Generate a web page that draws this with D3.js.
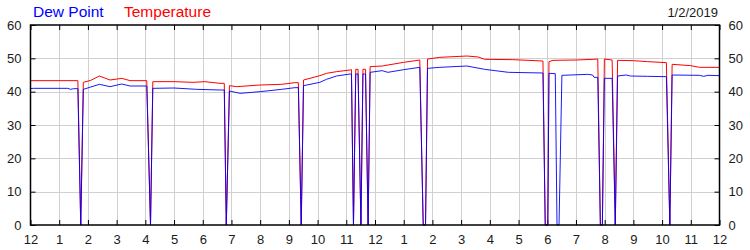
<!DOCTYPE html>
<html>
<head>
<meta charset="utf-8">
<script src="https://cdn.jsdelivr.net/npm/d3@7"></script>
<style>
html,body{margin:0;padding:0;background:#fff;}
svg{display:block;font-family:"Liberation Sans",Arial,sans-serif;}
</style>
</head>
<body>
<svg id="chart" width="750" height="250"></svg>
<script>
// ---- data (hours since midnight, °F) ----
const xTickLabels = ["12","1","2","3","4","5","6","7","8","9","10","11","12","1","2","3","4","5","6","7","8","9","10","11","12"];
const yTicks = [0,10,20,30,40,50,60];
const dateLabel = "1/2/2019";
const seriesNames = ["Dew Point","Temperature"];

const tempHours = [0,1.65,1.75,1.84,2.1,2.4,2.77,3.18,3.47,4.05,4.18,4.26,5.0,5.66,6.08,6.6,6.75,6.82,6.93,7.18,8.0,8.75,9.21,9.33,9.43,9.51,10.08,10.31,10.66,11.13,11.18,11.25,11.33,11.41,11.51,11.58,11.67,11.76,11.83,12.25,13.0,13.56,13.68,13.76,13.83,14.26,15.2,15.6,15.82,16.8,17.85,17.93,18.02,18.06,18.2,19.0,19.6,19.76,19.85,19.92,19.99,20.26,20.37,20.45,21.0,21.5,22.15,22.27,22.35,23.0,23.3,24];
const tempValues = [43.3,43.3,0,42.8,43.4,44.7,43.5,44.0,43.3,43.3,0,43.0,43.0,42.8,43.0,42.5,42.5,0,41.8,41.5,42.0,42.2,42.7,42.7,0,43.5,44.8,45.5,46.0,46.5,46.6,0,46.7,46.7,0,46.7,46.7,0,47.5,47.7,48.8,49.5,0,0,49.8,50.3,50.7,50.4,49.7,49.6,49.2,0,0,49.0,49.4,49.5,49.7,49.8,0,0,49.8,49.5,0,49.4,49.3,49.0,48.7,0,48.2,47.8,47.3,47.3];

const dewHours = [0,0.1,1.3,1.4,1.5,1.65,1.75,1.84,2.1,2.4,2.77,3.18,3.47,4.05,4.18,4.26,5.0,5.79,6.6,6.75,6.82,6.93,7.3,8.0,8.75,9.21,9.33,9.43,9.51,10.08,10.31,10.66,11.13,11.18,11.25,11.33,11.41,11.51,11.58,11.67,11.76,11.83,12.25,12.45,13.0,13.56,13.68,13.76,13.83,14.26,15.2,15.82,16.65,17.85,17.93,18.02,18.06,18.28,18.34,18.41,18.51,19.41,19.58,19.63,19.76,19.85,19.92,19.99,20.26,20.37,20.45,20.75,20.9,21.5,22.15,22.27,22.35,23.3,23.45,23.6,24];
const dewValues = [40.9,41.0,41.0,40.7,40.9,40.9,0,40.7,41.4,42.2,41.5,42.3,41.7,41.7,0,41.0,41.1,40.7,40.5,40.5,0,40.2,39.5,40.0,40.7,41.2,41.2,0,41.8,42.8,43.7,44.7,45.3,45.3,0,45.3,45.3,0,45.3,45.3,0,45.8,46.3,45.8,46.6,47.3,0,0,47.0,47.3,47.7,46.7,45.8,45.6,0,0,45.5,45.4,0,0,44.9,45.2,45.0,44.3,44.3,0,0,44.0,44.0,0,44.7,45.0,44.7,44.6,44.5,0,45.0,44.9,44.6,44.9,44.8];

// ---- layout ----
const svg = d3.select("#chart");
const L = 30.5, R = 719.5, T = 25, B = 225;
const x = d3.scaleLinear().domain([0,24]).range([L,R]);
const y = d3.scaleLinear().domain([0,60]).range([B,T]);
const hourTicks = d3.range(0,25);

// grid
svg.append("g").selectAll("line.vg").data(hourTicks.slice(1,-1)).join("line")
  .attr("x1",d=>Math.round(x(d))+0.5).attr("x2",d=>Math.round(x(d))+0.5)
  .attr("y1",T).attr("y2",B).attr("stroke","#d0d0d0").attr("stroke-width",1);
svg.append("g").selectAll("line.hg").data(yTicks.slice(1,-1)).join("line")
  .attr("x1",L).attr("x2",R)
  .attr("y1",d=>Math.round(y(d))+0.5).attr("y2",d=>Math.round(y(d))+0.5)
  .attr("stroke","#d0d0d0").attr("stroke-width",1);

// axes via d3 axis generators (inner ticks)
const fmtX = (d,i)=>xTickLabels[i];
const axB = svg.append("g").attr("transform",`translate(0,${B})`)
  .call(d3.axisBottom(x).tickValues(hourTicks).tickFormat(fmtX).tickSize(-5).tickPadding(10));
const axT = svg.append("g").attr("transform",`translate(0,${T})`)
  .call(d3.axisTop(x).tickValues(hourTicks).tickFormat("").tickSize(-5));
const axL = svg.append("g").attr("transform",`translate(${L},0)`)
  .call(d3.axisLeft(y).tickValues(yTicks).tickSize(-5).tickPadding(9));
const axR = svg.append("g").attr("transform",`translate(${R},0)`)
  .call(d3.axisRight(y).tickValues(yTicks).tickSize(-5).tickPadding(9));
[axB,axT,axL,axR].forEach(g=>{
  g.select(".domain").remove();
  g.selectAll(".tick line").attr("stroke","#000");
  g.selectAll("text").attr("fill","#1a1a1a").style("font-size","13px")
   .style("font-family","'Liberation Sans',Arial,sans-serif");
});

// series lines
const tempData = tempHours.map((h,i)=>[h,tempValues[i]]);
const dewData = dewHours.map((h,i)=>[h,dewValues[i]]);
const line = d3.line().x(d=>x(d[0])).y(d=>y(d[1]));
svg.append("path").datum(tempData).attr("d",line).attr("fill","none")
  .attr("stroke","#ff0000").attr("stroke-width",1);
svg.append("path").datum(dewData).attr("d",line).attr("fill","none")
  .attr("stroke","#0000ff").attr("stroke-width",1).attr("stroke-opacity",0.9);

// frame
svg.append("rect").attr("x",L).attr("y",T).attr("width",R-L).attr("height",B-T)
  .attr("fill","none").attr("stroke","#000").attr("stroke-width",1.5);

// legend
svg.append("text").attr("x",33).attr("y",17).attr("fill","#0000ff")
  .style("font-size","15.5px").text(seriesNames[0]);
svg.append("text").attr("x",124).attr("y",17).attr("fill","#ff0000")
  .style("font-size","15.5px").text(seriesNames[1]);
svg.append("text").attr("x",718).attr("y",17).attr("text-anchor","end").attr("fill","#1a1a1a")
  .style("font-size","13px").text(dateLabel);
</script>
</body>
</html>
